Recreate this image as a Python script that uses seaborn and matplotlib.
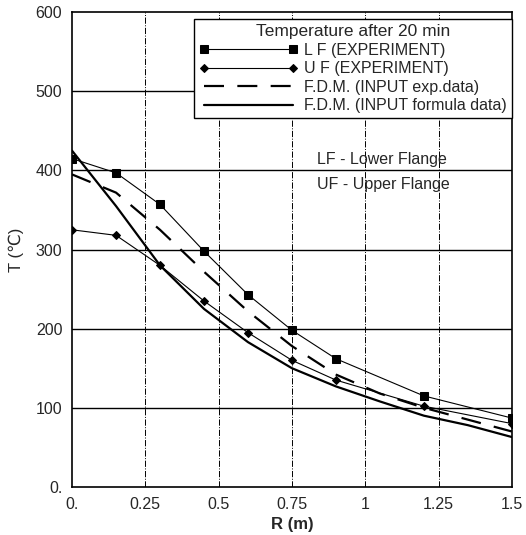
import numpy as np
import pandas as pd
import matplotlib
matplotlib.use('Agg')
import matplotlib.pyplot as plt
import seaborn as sns

# data
r_exp = [0.0, 0.15, 0.3, 0.45, 0.6, 0.75, 0.9, 1.2, 1.5]
t_lf = [415, 397, 357, 298, 243, 198, 162, 115, 87]
t_uf = [325, 318, 280, 235, 195, 160, 135, 102, 80]

r_fdm = [0.0, 0.15, 0.3, 0.45, 0.6, 0.75, 0.9, 1.05, 1.2, 1.35, 1.5]
t_fdm_exp = [395, 372, 325, 272, 222, 178, 142, 118, 100, 85, 70]
t_fdm_formula = [425, 355, 280, 225, 183, 150, 127, 108, 90, 78, 63]

x_ticks = [0, 0.25, 0.5, 0.75, 1, 1.25, 1.5]
x_labels = ['0.', '0.25', '0.5', '0.75', '1', '1.25', '1.5']
y_ticks = [0, 100, 200, 300, 400, 500, 600]
y_labels = ['0.', '100', '200', '300', '400', '500', '600']

sns.set_style('white')
plt.rcParams['font.family'] = ['Liberation Sans', 'DejaVu Sans']

fig = plt.figure(figsize=(5.26, 5.35), dpi=100)
ax = fig.add_axes([0.137, 0.09, 0.836, 0.887])

sns.lineplot(x=r_exp, y=t_lf, ax=ax, color='black', lw=0.8, marker='s', markersize=6,
             markeredgecolor='black', label='L F (EXPERIMENT)')
sns.lineplot(x=r_exp, y=t_uf, ax=ax, color='black', lw=0.8, marker='D', markersize=4.5,
             markeredgecolor='black', label='U F (EXPERIMENT)')
sns.lineplot(x=r_fdm, y=t_fdm_exp, ax=ax, color='black', lw=1.6,
             label='F.D.M. (INPUT exp.data)')
ax.lines[-1].set_dashes([9, 6])
sns.lineplot(x=r_fdm, y=t_fdm_formula, ax=ax, color='black', lw=1.6,
             label='F.D.M. (INPUT formula data)')

ax.set_xlim(0, 1.5)
ax.set_ylim(0, 600)
ax.set_xticks(x_ticks)
ax.set_xticklabels(x_labels)
ax.set_yticks(y_ticks)
ax.set_yticklabels(y_labels)
ax.tick_params(labelsize=11.5, length=0)
ax.tick_params(axis='x', pad=7)
ax.tick_params(axis='y', pad=7)

for y in y_ticks[1:-1]:
    ax.axhline(y, color='black', lw=1.0, zorder=0)
for x in x_ticks[1:-1]:
    ax.axvline(x, color='black', lw=0.7, ls='-.', zorder=0)

for s in ax.spines.values():
    s.set_color('black')
    s.set_linewidth(1.2)

ax.set_xlabel('R (m)', fontsize=12, fontweight='bold', labelpad=4)
ax.set_ylabel('T (\u2103)', fontsize=12, labelpad=8)

leg = ax.legend(title='Temperature after 20 min', loc='upper right',
                bbox_to_anchor=(1.0, 0.985), fontsize=11.5, title_fontsize=12.5,
                numpoints=2, handlelength=6.2, frameon=True, fancybox=False,
                borderaxespad=0.0, labelspacing=0.22, handletextpad=0.4,
                borderpad=0.3)
leg.get_frame().set_edgecolor('black')
leg.get_frame().set_linewidth(1.0)
leg.get_frame().set_alpha(1.0)

ax.text(0.558, 0.69, 'LF - Lower Flange', transform=ax.transAxes, fontsize=11.5, va='center')
ax.text(0.558, 0.637, 'UF - Upper Flange', transform=ax.transAxes, fontsize=11.5, va='center')

fig.savefig('out.png', dpi=100)
